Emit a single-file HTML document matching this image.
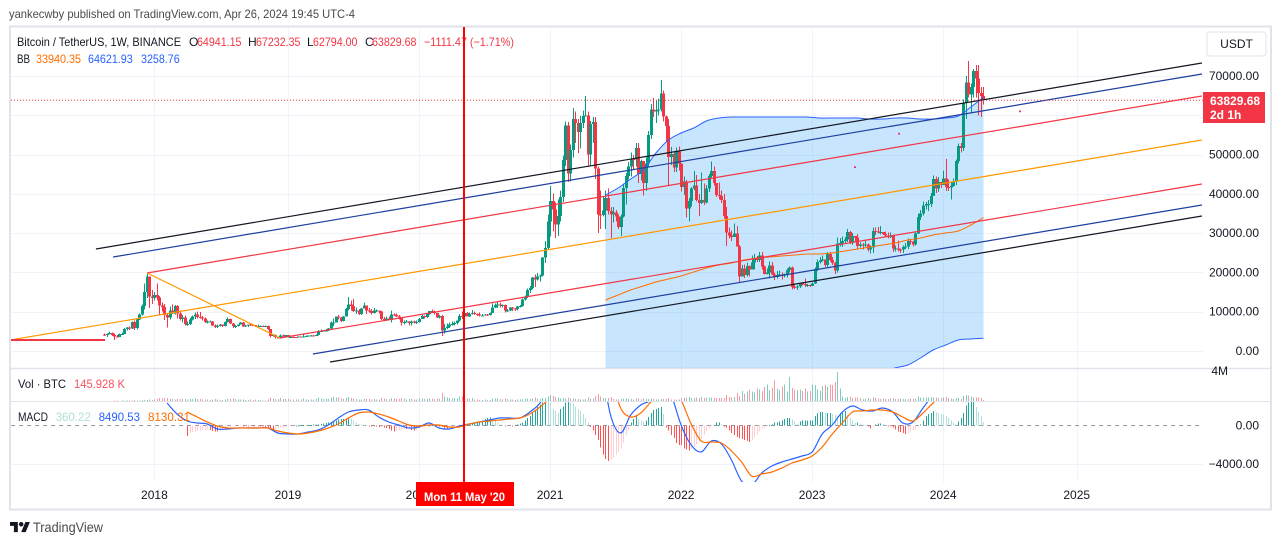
<!DOCTYPE html>
<html lang="en">
<head>
<meta charset="utf-8">
<title>BTCUSDT weekly chart</title>
<style>
html,body{margin:0;padding:0;background:#fff;width:1281px;height:545px;overflow:hidden}
svg{display:block;font-family:"Liberation Sans",Arial,sans-serif}
text{font-size:12px;fill:#131722}
</style>
</head>
<body>
<svg id="chart" xmlns="http://www.w3.org/2000/svg" width="1281" height="545" viewBox="0 0 1281 545">
  <defs>
    <clipPath id="main-clip"><rect x="11" y="27" width="1192" height="341"/></clipPath>
    <clipPath id="vol-clip"><rect x="11" y="369" width="1192" height="32"/></clipPath>
    <clipPath id="macd-clip"><rect x="11" y="402" width="1192" height="80"/></clipPath>
  </defs>
  <text x="9" y="18" textLength="346" lengthAdjust="spacingAndGlyphs" style="fill:#4a4a4a">yankecwby published on TradingView.com, Apr 26, 2024 19:45 UTC-4</text>
  <rect x="10" y="26.5" width="1261" height="483" fill="#fff" stroke="#E0E3EB" stroke-width="2"/>
  <g id="grid"></g>
  <line x1="11" y1="368.5" x2="1270" y2="368.5" stroke="#E0E3EB" stroke-width="1.5"/>
  <line x1="11" y1="401.5" x2="1270" y2="401.5" stroke="#E0E3EB" stroke-width="1"/>
  <g clip-path="url(#main-clip)">
    <g id="bb-fill"></g>
    <g id="candles" shape-rendering="crispEdges"></g>
    <g id="bb-lines"></g>
    <g id="drawings"></g>
    <g id="price-line"></g>
    <g id="dots"></g>
  </g>
  <g clip-path="url(#vol-clip)"><g id="volume" shape-rendering="crispEdges"></g></g>
  <g clip-path="url(#macd-clip)">
    <line x1="11" y1="425.5" x2="1203" y2="425.5" stroke="#9598A1" stroke-dasharray="4 4"/>
    <g id="hist" shape-rendering="crispEdges"></g>
    <g id="macd-lines"></g>
  </g>

  <g>
    <text x="17" y="46" textLength="164" lengthAdjust="spacingAndGlyphs">Bitcoin / TetherUS, 1W, BINANCE</text>
    <text x="189" y="46">O</text>
    <text x="197" y="46" textLength="44.500" lengthAdjust="spacingAndGlyphs" style="fill:#F23645">64941.15</text>
    <text x="248" y="46">H</text>
    <text x="256" y="46" textLength="44.500" lengthAdjust="spacingAndGlyphs" style="fill:#F23645">67232.35</text>
    <text x="307" y="46">L</text>
    <text x="313" y="46" textLength="44.500" lengthAdjust="spacingAndGlyphs" style="fill:#F23645">62794.00</text>
    <text x="365" y="46">C</text>
    <text x="372" y="46" textLength="44.500" lengthAdjust="spacingAndGlyphs" style="fill:#F23645">63829.68</text>
    <text x="424" y="46" textLength="90" lengthAdjust="spacingAndGlyphs" style="fill:#F23645">−1111.47 (−1.71%)</text>
    <text x="17" y="63" textLength="13" lengthAdjust="spacingAndGlyphs">BB</text>
    <text x="36" y="63" textLength="45" lengthAdjust="spacingAndGlyphs" style="fill:#FF6D00">33940.35</text>
    <text x="88" y="63" textLength="44.700" lengthAdjust="spacingAndGlyphs" style="fill:#2962FF">64621.93</text>
    <text x="141" y="63" textLength="38.700" lengthAdjust="spacingAndGlyphs" style="fill:#2962FF">3258.76</text>
  </g>
  <g>
    <text x="18" y="388" textLength="48" lengthAdjust="spacingAndGlyphs">Vol · BTC</text>
    <text x="74" y="388" textLength="51" lengthAdjust="spacingAndGlyphs" style="fill:#F7525F">145.928 K</text>
  </g>
  <g>
    <text x="18" y="421" textLength="30" lengthAdjust="spacingAndGlyphs">MACD</text>
    <text x="55.700" y="421" textLength="35" lengthAdjust="spacingAndGlyphs" style="fill:#B2DFDB">360.22</text>
    <text x="98.700" y="421" textLength="41.300" lengthAdjust="spacingAndGlyphs" style="fill:#2962FF">8490.53</text>
    <text x="148" y="421" textLength="42" lengthAdjust="spacingAndGlyphs" style="fill:#FF6D00">8130.31</text>
  </g>

  <g id="price-axis"></g>
  <g id="time-axis"></g>

  <rect x="1207" y="32" width="59" height="24" rx="3" fill="#fff" stroke="#E0E3EB"/>
  <text x="1236.500" y="48" text-anchor="middle">USDT</text>
  <rect x="1203" y="92" width="62" height="31" fill="#F23645"/>
  <text x="1210" y="105" style="fill:#fff;font-weight:bold">63829.68</text>
  <text x="1210" y="119" style="fill:#fff;font-weight:bold">2d 1h</text>

  <rect x="463" y="27" width="2" height="455" fill="#FF0000"/>
  <rect x="416" y="482" width="98" height="24" fill="#FF0000"/>
  <text x="424" y="501" textLength="81" lengthAdjust="spacingAndGlyphs" style="fill:#fff;font-weight:bold">Mon 11 May '20</text>

  <g transform="translate(10,522) scale(0.56)" fill="#131722">
    <path d="M14 18H7V7H0V0h14v18zM28 18h-8L27.500 0h8L28 18z"/>
    <circle cx="20" cy="4" r="4"/>
  </g>
  <text x="33" y="532" textLength="70" lengthAdjust="spacingAndGlyphs" style="font-size:14px;fill:#4a4a4a">TradingView</text>
</svg>

<script>
/* Weekly bars start 14 Aug 2017. */
const closes = [
4090,4340,4580,4130,3700,3610,4370,4380,5640,6010,5750,7350,5810,8040,9290,11500,15000,18950,13900,13440,
14300,13650,11530,11170,9200,8560,10310,9590,11450,9550,8200,8530,6880,6900,8000,8810,9240,8640,8490,8250,7360,7500,7500,6450,6150,6380,6720,6350,7400,8200,7010,6300,6400,6700,7200,6250,6490,6710,6600,6570,6300,6400,6410,6350,6350,5550,3800,4020,3500,3190,4000,3700,
4050,3510,3540,3530,3410,3660,3610,3720,3790,3900,3990,3980,4100,5040,5060,5260,5260,5700,7210,7260,8730,8550,7640,8840,10700,11880,11480,10180,10350,9480,10820,11540,10300,10130,9630,10300,10300,10000,8200,8150,8300,7950,9230,9200,8800,8480,7300,7400,7520,7100,7510,7250,
7350,8180,8900,8600,9370,10150,9920,9660,8530,8900,5200,5820,6240,6770,6860,7100,7700,8900,8720,9680,8720,9450,9670,9460,9300,9000,9070,9300,9160,9700,11050,11680,11850,11650,11700,10260,10320,11080,10770,10660,11370,11500,13110,13770,15480,16000,18650,18200,19000,19170,23850,26250,
33000,38200,36000,32250,34300,39200,48600,57400,45200,51200,59000,58000,55800,58000,59800,60000,50000,57800,58300,46500,34700,34600,35800,39000,35600,34700,35300,34250,31500,34200,41500,44600,47000,48900,48800,51700,45000,48300,42700,47700,55000,61500,60900,61300,61500,65500,59700,57300,49400,50100,46700,50800,47700,
41800,43100,36300,38200,41400,42100,38400,37700,38400,37800,41300,44500,45800,42800,39700,39450,38470,34300,30100,29450,29000,29900,26570,18990,21030,19300,21600,20800,22570,23630,23170,24300,21500,19550,19990,21800,19420,18800,19310,19440,19260,19570,20620,21300,16330,16280,16420,17130,17100,16780,16840,16540,
17120,20870,22700,23030,23320,21860,24630,23170,22430,20460,27400,27470,27980,28330,30300,27590,29230,28890,26780,27110,26850,27100,25840,26340,30480,30470,30170,30290,29770,29350,29040,29280,26050,26100,25870,25830,26530,26580,27970,27920,27160,29900,34070,35040,37060,37380,37450,39460,43790,41370,43010,42280,
43930,41730,41580,42030,43190,48300,52140,51730,63110,68370,65300,67210,71280,69360,65660,64941,63829.68];
const highs = [
4485,4480,4940,4700,4400,4100,4500,4650,5860,6170,6190,7500,7780,8100,9500,11800,17200,19800,19000,15500,
15000,17200,14000,12300,11900,9500,11300,11800,11700,11700,10300,9200,9000,7500,8400,9000,9750,9990,9950,8880,8500,7700,7750,7600,6800,6700,6900,6800,7500,8500,8300,7150,6600,6800,7350,7400,6600,6800,6950,6800,6600,6750,6550,6500,6550,6450,5650,4300,4250,3550,4200,4200,
4100,4100,3700,3650,3550,3720,3700,4200,3900,3950,4050,4080,4150,5350,5470,5350,5650,5900,7450,8300,8800,9100,8700,8950,11000,13800,12800,13200,11100,10650,11000,12300,11500,10950,10700,10900,10500,10300,10150,8600,8800,8800,10350,9600,9500,9100,8500,7800,7900,7650,7700,7750,
7700,8450,9190,9000,9570,10190,10500,10300,9670,9170,9150,6900,6950,7200,7450,7450,7800,9400,10070,9930,9950,9740,10380,10000,9580,9800,9380,9480,9400,9800,12100,12050,12480,12400,11800,11800,10670,11180,11180,10950,11500,11740,13350,14100,15960,16500,18890,19480,19900,19420,23900,28000,
34800,42000,40100,37850,38600,40900,49700,58350,58300,52600,61800,61000,59000,59800,61200,64850,61000,58500,59600,59500,47000,40900,39400,40800,41300,36600,36600,35900,34700,34750,42600,45300,48150,50500,49900,53000,52900,48800,45300,49200,56000,62900,64400,63700,64300,69000,66300,60000,59000,51900,50500,51800,52100,
47500,44400,43500,38900,41700,45800,44800,40000,45400,42600,42300,45000,48200,47000,42400,42900,40800,40000,36600,31400,30700,32400,31800,27000,21900,22000,22500,21700,24300,24700,24200,25200,25200,21800,21000,22800,22700,20000,20400,20500,20000,19700,21000,21500,21500,17200,16800,17400,17400,18400,17000,16970,
17400,21300,23300,23950,24250,23350,25250,25250,23900,22600,28900,28800,29200,29000,31000,30500,30000,29300,29800,27650,27500,28400,27400,26800,31400,31400,31500,31800,30350,30400,30100,30200,29700,26800,28100,26100,26800,27500,28600,28500,28000,30300,35000,35900,38000,37900,38400,40250,44700,44400,44300,43000,
45900,48900,43600,42850,43900,48800,52800,53000,64000,70000,73800,68100,71800,72800,72800,67200,67232.35];
const lows = [
3850,3600,4200,3800,2820,3450,3700,4100,4300,5200,5400,5600,5400,5500,7900,9000,10600,13500,11000,12000,
12800,12800,9100,10000,7900,6000,8000,9400,9300,8300,7800,7300,6500,6400,6600,7800,8100,8300,8300,7700,7100,7000,7350,6300,5800,5800,6200,6050,6250,7300,6900,5880,5900,6250,6700,6100,6100,6150,6300,6350,6100,6100,6300,6200,6250,5300,3400,3650,3200,3130,3150,3500,
3650,3450,3460,3450,3350,3390,3580,3600,3650,3700,3800,3850,3850,3950,4950,4950,5150,5150,5650,6400,7250,8000,7440,7450,8800,10300,10300,9900,9400,9150,9100,11000,9400,9800,9350,9600,9900,9600,7900,7700,7800,7850,7300,8900,8600,8000,6550,6800,7300,6500,6430,7050,
6850,7300,8200,8280,8420,9150,9700,9300,8400,8300,3800,4420,5600,5850,6500,6550,6750,7500,8100,8100,8820,8620,9280,9120,8920,8820,8950,9050,8900,9000,9620,11000,11000,11120,11100,9800,9900,10230,10130,10130,10360,11100,11360,12900,13500,14800,15700,16300,18000,17650,18900,22350,
26000,29200,30400,28800,29250,33000,37900,47100,43000,43100,49300,53000,50400,51600,56800,59800,47000,47000,53000,43800,30000,31000,34200,31100,34800,28800,32700,33000,31000,29300,34000,37300,43700,44400,46300,47000,42800,43400,39600,40750,46900,53900,59500,58000,60000,61000,58400,53200,42000,47300,45500,45600,46000,
40600,39650,34000,32900,36800,41000,38000,34300,37400,37150,37500,40500,44200,42100,39200,38500,37700,33700,26700,28600,28000,29300,26700,17600,19600,18600,19000,18900,20750,20700,22700,22700,20800,19500,19500,18500,19300,18100,18500,19000,18200,18700,18700,20000,15600,15800,15500,16000,16700,16300,16300,16300,
16500,17100,20400,22300,22750,21400,21400,22750,21900,19550,20000,26600,26500,27200,27800,27200,26950,27650,25800,26300,25800,26500,25300,24800,25000,29500,29900,29650,29500,28850,28600,28700,25150,25350,25300,24900,24900,26000,26000,27100,26550,26800,29800,33400,34500,36000,35600,36700,39500,40200,40500,41500,
42200,40700,40700,38500,41900,42300,47700,50500,50900,59000,64500,60750,64500,64500,60000,59600,62794];
/* Weekly volume in thousands of BTC */
const volumes = [
10,20,20,30,60,40,30,40,50,50,60,70,110,80,100,120,150,150,200,150,
230,300,400,350,400,400,300,250,230,280,300,250,250,220,250,300,320,280,280,230,220,200,160,230,250,180,160,170,230,300,280,320,270,200,200,210,170,170,180,130,190,170,110,100,90,190,400,370,310,300,380,260,
250,250,180,200,190,240,190,320,230,240,240,230,250,480,330,300,320,300,460,560,480,500,360,310,400,560,420,370,300,230,240,310,290,250,230,250,220,230,400,350,310,280,420,350,280,260,420,330,240,280,280,220,
230,370,370,280,300,330,370,300,340,370,1100,650,500,380,350,430,370,630,650,530,340,320,380,240,220,170,150,180,120,170,350,340,330,250,190,330,250,190,200,150,190,210,270,340,330,310,350,450,370,290,390,430,
640,800,680,520,460,350,420,360,470,340,320,280,310,240,240,300,470,330,330,690,1000,600,430,440,420,570,300,240,200,250,330,320,280,300,240,320,330,240,340,250,310,310,290,240,200,250,260,290,410,230,230,210,200,
400,420,500,560,400,420,450,430,520,400,450,470,500,380,400,380,420,430,800,520,480,560,1100,700,1400,1000,1300,1500,1300,1200,1700,1600,1400,1900,2300,1500,1800,2900,1700,1500,2000,2300,1300,3300,1800,1600,1500,1600,1400,1700,1300,1400,
2300,2200,1600,1400,2100,2200,1900,2300,2200,2600,4000,1700,600,400,550,600,400,450,500,400,300,350,400,300,450,400,350,300,250,250,250,350,400,300,250,250,300,250,300,350,300,350,600,500,500,450,450,550,500,450,400,400,
500,550,400,350,300,380,400,300,700,800,750,600,500,450,500,400,146];
/* MACD histogram, weekly from bar 33 */
const histStart = 33;
const histValues = [
-1100,-800,-650,-600,-550,-500,-480,-450,-400,-450,-550,-600,-600,-500,-350,-250,-200,-150,-100,-60,-50,-40,-40,-30,-30,-20,-40,-20,-20,-50,-100,-200,-300,-350,-400,-350,-300,-250,-200,
-150,-100,-60,-20,10,20,30,40,30,40,60,80,100,120,150,200,250,300,350,400,500,600,650,700,750,800,750,500,300,180,100,60,30,-30,-60,-100,-120,-180,-150,-200,-250,-350,-500,-600,-550,-450,-400,-350,-350,-300,-450,-500,
-400,-300,-200,-100,-50,20,60,80,40,-20,-150,-300,-350,-280,-200,-100,-50,20,60,100,150,200,250,300,350,400,500,650,800,850,700,500,300,100,30,-60,-50,-30,-30,50,100,200,300,500,800,1000,1300,1600,1900,2200,2400,2600,
2500,2400,1700,1500,1300,1700,2000,2400,2500,2400,2300,2000,1700,1500,1200,800,300,-150,-500,-1000,-1500,-2300,-3000,-3500,-3700,-3600,-3300,-3000,-2700,-2400,-1800,-1000,-500,300,700,1000,700,500,400,500,900,1300,1600,1700,1800,1900,1200,-200,-500,-1000,-1300,-1800,-2000,
-2000,-2400,-2500,-2600,-2400,-2200,-1900,-1700,-1400,-1000,-600,-300,-100,50,300,300,100,-100,-200,-500,-800,-1000,-1200,-1300,-1400,-1500,-1600,-1700,-1500,-1200,-900,-600,-300,-200,-50,50,100,300,300,400,500,700,800,800,600,400,200,400,500,500,500,500,
500,1000,1300,1400,1400,1300,1300,1300,1200,1100,1000,1300,1400,1500,1100,800,500,300,300,200,100,50,-100,-300,-100,100,200,200,150,30,-30,-100,-200,-400,-600,-700,-800,-900,-800,-600,-500,-400,-200,100,500,1000,1200,1300,1500,1400,1300,1200,
1100,1000,800,500,300,100,400,800,1300,2100,2400,2500,2500,1900,1400,1000,360];
/* MACD and signal lines, sampled every 4 weeks from bar 25 */
const macdStart = 25;
const macdStep = 4;
const macdLine = [
2340,1195,470,260,155,-365,-365,-260,-260,-260,-260,-780,-880,-880,-675,-470,50,780,1400,1610,
1610,885,365,50,-260,-155,260,-260,-365,-50,155,365,570,780,780,780,1400,2340,4200,6800,
8880,10450,10970,6800,1090,-780,1090,2130,2650,4210,3170,50,-2030,-2750,-1610,-1920,-3585,-5770,-6180,-4940,
-4210,-3790,-3480,-3170,-2750,-880,50,1400,2030,1610,1510,1820,1400,260,365,1820,3170,4210,5250,7330,8680,8490];
const signalLine = [
null,null,1400,885,365,-50,-260,-260,-260,-260,-260,-570,-780,-880,-780,-570,-260,155,780,1300,
1400,1195,885,470,50,-50,50,50,-155,-155,155,365,470,570,675,780,1195,1920,2860,4210,
5975,7840,9090,8360,5250,1820,885,1300,2440,3480,4210,2650,155,-1610,-1715,-1820,-2650,-3790,-5250,-5040,
-4830,-4420,-3900,-3585,-3170,-2230,-880,260,1400,1510,1610,1610,1400,885,470,1300,2340,3170,4210,5250,7330,8130];
/* Bollinger bands, sampled every 5 weeks from bar 199 */
const bbStart = 199;
const bbStep = 5;
const bbUpper = [39700,41480,43770,46065,50390,53700,55480,56750,58535,59300,59550,59550,59550,59550,59550,59550,59550,59300,59300,59300,59300,59040,59040,59300,59300,59040,59040,59300,59800,62100,64620];
const bbBasis = [12980,14250,15525,16540,17560,18320,19090,20105,21120,21890,22400,23160,23670,23920,24180,24430,24690,24690,24940,25450,25960,26470,26980,27490,28250,28760,29520,30030,30540,32070,33940];
const bbLower = [-13700,-13000,-12700,-13000,-15300,-17100,-17300,-16500,-16300,-15500,-14800,-13200,-12200,-11700,-11200,-10700,-10200,-10200,-9600,-8600,-7600,-6400,-5400,-4300,-3560,-1780,250,1530,2800,3050,3258];
/* Trend-line drawings as (bar index, price) anchor pairs */
const lineNames = ['fork-top-black','fork-top-blue','fork-top-red','fork-median-orange','fork-bottom-red','fork-bottom-blue','fork-bottom-black','fork-diagonal','fork-base'];
const lineColors = ['#131722','#1E3F9E','#F23645','#FF9800','#F23645','#1E3F9E','#131722','#FF9800','#F23645'];
const lineBar1 = [-3.2,3.6,17.1,-37.3,69.8,82.9,89.7,17.1,-37.3];
const linePrice1 = [25960,23920,19850,2800,3310,-760,-2800,19850,2800];
const lineBar2 = [435.7,435.7,435.7,435.7,435.7,435.7,435.7,69.8,0.4];
const linePrice2 = [73300,70500,64900,53700,42500,37160,34360,3310,2800];
/* Axis ticks */
const priceTicks = [70000,60000,50000,40000,30000,20000,10000,0];
const priceTickLabels = ['70000.00','','50000.00','40000.00','30000.00','20000.00','10000.00','0.00'];
const macdTicks = [0,-4000];
const macdTickLabels = ['0.00','−4000.00'];
const yearBars = [20,73,125,177,229,281,333,386];
const yearLabels = ['2018','2019','2020','2021','2022','2023','2024','2025'];
const lastPrice = 63829.68;
const markerBars = [298,315.5,363.5];
const markerPrices = [46800,55300,61000];

const NS = 'http://www.w3.org/2000/svg';
function xOf(i){ return 104 + 2.52*i; }
function yPrice(p){ return 351 - p*0.003929; }
function yVol(v){ return 401 - v*29/4000; }
function yMacd(v){ return 425.5 - v*38.5/4000; }
function make(tag, parent, attrs){
  const node = document.createElementNS(NS, tag);
  for (const k in attrs) node.setAttribute(k, attrs[k]);
  document.getElementById(parent).appendChild(node);
  return node;
}
/* Catmull-Rom segments through the given [x,y] points */
function curveSegments(p){
  let d = '';
  for (let i = 0; i < p.length-1; i++){
    const a = p[Math.max(0,i-1)], b = p[i], c = p[i+1], e = p[Math.min(p.length-1,i+2)];
    d += ' C' + (b[0]+(c[0]-a[0])/6).toFixed(1) + ',' + (b[1]+(c[1]-a[1])/6).toFixed(1) + ' ' +
         (c[0]-(e[0]-b[0])/6).toFixed(1) + ',' + (c[1]-(e[1]-b[1])/6).toFixed(1) + ' ' +
         c[0].toFixed(1) + ',' + c[1].toFixed(1);
  }
  return d;
}
function curvePath(p){
  return 'M' + p[0][0].toFixed(1) + ',' + p[0][1].toFixed(1) + curveSegments(p);
}

/* grid */
priceTicks.forEach(function(p){
  const g = make('line','grid',{x1:11,x2:1203,y1:Math.round(yPrice(p))+.5,y2:Math.round(yPrice(p))+.5,stroke:'#F0F3FA'});
  
  
});
macdTicks.forEach(function(v){
  if (v === 0) return;
  const g = make('line','grid',{x1:11,x2:1203,y1:Math.round(yMacd(v))+.5,y2:Math.round(yMacd(v))+.5,stroke:'#F0F3FA'});
  
  
});
yearBars.forEach(function(b){
  const g = make('line','grid',{x1:Math.round(xOf(b))+.5,x2:Math.round(xOf(b))+.5,y1:27,y2:482,stroke:'#F0F3FA'});
  
  
});

/* bollinger fill and lines */
(function(){
  function pts(arr){ return arr.map(function(v,k){ return [xOf(bbStart+k*bbStep), yPrice(v)]; }); }
  const up = pts(bbUpper), lo = pts(bbLower), mid = pts(bbBasis);
  const loRev = lo.slice().reverse();
  const fillD = curvePath(up) + ' L' + loRev[0][0].toFixed(1) + ',' + loRev[0][1].toFixed(1) + curveSegments(loRev) + ' Z';
  const fill = make('path','bb-fill',{d:fillD,fill:'rgba(33,150,243,0.25)'});
  
  
  const upper = make('path','bb-lines',{d:curvePath(up),fill:'none',stroke:'#2962FF','stroke-width':1});
  
  
  const lower = make('path','bb-lines',{d:curvePath(lo),fill:'none',stroke:'#2962FF','stroke-width':1});
  
  
  const basis = make('path','bb-lines',{d:curvePath(mid),fill:'none',stroke:'#FF6D00','stroke-width':1});
  
  
})();

/* candles, with each open taken from the previous close */
closes.forEach(function(c,i){
  const o = i ? closes[i-1] : 4260;
  const color = c >= o ? '#089981' : '#F23645';
  const x = Math.round(xOf(i));
  const wick = make('rect','candles',{x:x,y:yPrice(highs[i]),width:1,height:Math.max(1,yPrice(lows[i])-yPrice(highs[i])),fill:color});
  
  
  const top = yPrice(Math.max(o,c));
  const body = make('rect','candles',{x:x-1,y:top,width:3,height:Math.max(1,yPrice(Math.min(o,c))-top),fill:color});
  
  
});

/* drawings */
lineNames.forEach(function(name,n){
  const l = make('line','drawings',{x1:xOf(lineBar1[n]),y1:yPrice(linePrice1[n]),x2:xOf(lineBar2[n]),y2:yPrice(linePrice2[n]),stroke:lineColors[n],'stroke-width':n===8?2:1.2});
  
  
});

/* last price line */
(function(){
  const l = make('line','price-line',{x1:11,x2:1203,y1:yPrice(lastPrice),y2:yPrice(lastPrice),stroke:'#F23645','stroke-dasharray':'1 2'});
  
  
})();

/* stray markers */
markerBars.forEach(function(b,n){
  const d = make('circle','dots',{cx:xOf(b),cy:yPrice(markerPrices[n]),r:1,fill:'#E91E63'});
  
  
});

/* volume */
volumes.forEach(function(v,i){
  const o = i ? closes[i-1] : 4260;
  const b = make('rect','volume',{x:Math.round(xOf(i)),y:yVol(v),width:1,height:Math.max(1,401-yVol(v)),fill:closes[i]>=o?'rgba(8,153,129,.5)':'rgba(242,54,69,.5)'});
  
  
});

/* MACD histogram */
histValues.forEach(function(v,n){
  const prev = n ? histValues[n-1] : v;
  const color = v >= 0 ? (v >= prev ? '#26A69A' : '#B2DFDB') : (v <= prev ? '#FF5252' : '#FFCDD2');
  const y0 = yMacd(0), y1 = yMacd(v);
  const b = make('rect','hist',{x:Math.round(xOf(histStart+n)),y:Math.min(y0,y1),width:1,height:Math.max(1,Math.abs(y1-y0)),fill:color});
  
  
});

/* MACD lines */
function linePoints(arr){
  const pts = [];
  arr.forEach(function(v,k){
    if (v !== null) pts.push([xOf(macdStart+k*macdStep), yMacd(v)]);
  });
  return pts;
}
(function(){
  const m = make('path','macd-lines',{d:curvePath(linePoints(macdLine)),fill:'none',stroke:'#2962FF','stroke-width':1.2});
  
  
  const s = make('path','macd-lines',{d:curvePath(linePoints(signalLine)),fill:'none',stroke:'#FF6D00','stroke-width':1.2});
  
  
})();

/* axes */
priceTicks.forEach(function(p,n){
  if (!priceTickLabels[n]) return;
  const t = make('text','price-axis',{x:1259,y:yPrice(p)+4,'text-anchor':'end'});
  t.textContent = priceTickLabels[n];
  
  
});
macdTicks.forEach(function(v,n){
  const t = make('text','price-axis',{x:1259,y:yMacd(v)+4,'text-anchor':'end'});
  t.textContent = macdTickLabels[n];
  
  
});
(function(){
  const t = make('text','price-axis',{x:1228,y:yVol(4000)+3,'text-anchor':'end'});
  t.textContent = '4M';
  
  
})();
yearBars.forEach(function(b,n){
  const t = make('text','time-axis',{x:xOf(b),y:499,'text-anchor':'middle'});
  t.textContent = yearLabels[n];
  
  
});
</script>
</body>
</html>
